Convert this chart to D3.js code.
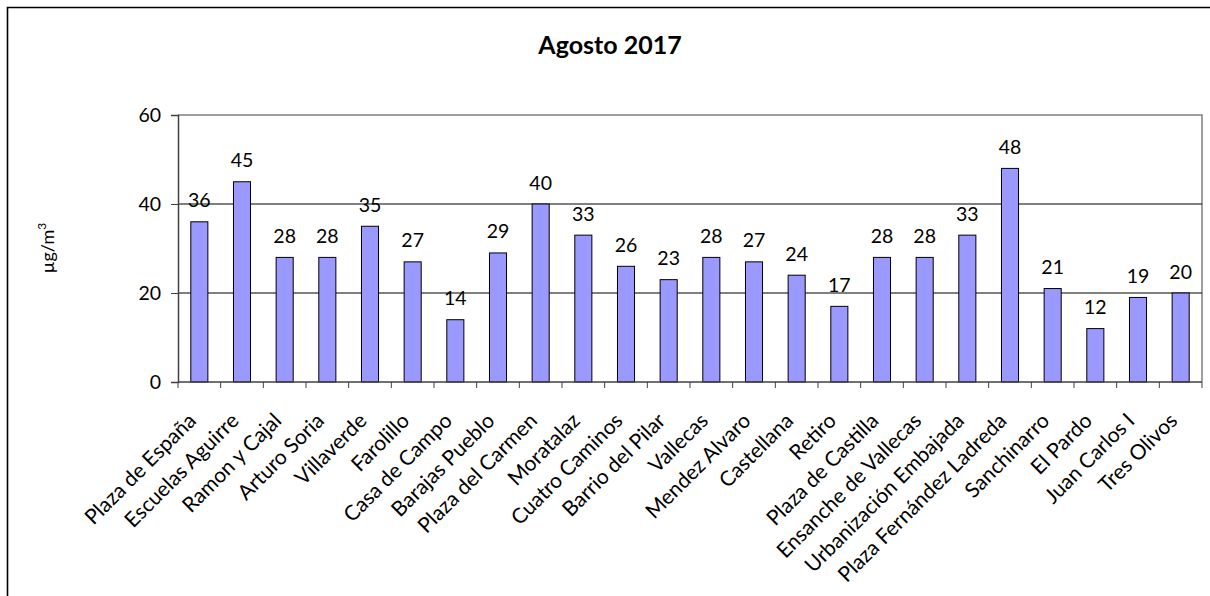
<!DOCTYPE html>
<html><head><meta charset="utf-8">
<script src="https://cdn.jsdelivr.net/npm/d3@7"></script>
<style>body{margin:0;background:#fff}svg{display:block}</style>
</head><body>
<svg id="c" width="1210" height="596"></svg>
<script>
const title = "Agosto 2017";
const yTitle = "µg/m";
const categories = ["Plaza de España","Escuelas Aguirre","Ramon y Cajal","Arturo Soria","Villaverde","Farolillo","Casa de Campo","Barajas Pueblo","Plaza del Carmen","Moratalaz","Cuatro Caminos","Barrio del Pilar","Vallecas","Mendez Alvaro","Castellana","Retiro","Plaza de Castilla","Ensanche de Vallecas","Urbanización Embajada","Plaza Fernández Ladreda","Sanchinarro","El Pardo","Juan Carlos I","Tres Olivos"];
const values = [36,45,28,28,35,27,14,29,40,33,26,23,28,27,24,17,28,28,33,48,21,12,19,20];
const yTicks = [0,20,40,60];

const svg = d3.select("#c");
const font = "Lato, 'Open Sans', sans-serif";
const L=178, R=1202, T=115, B=382;
const x = d3.scaleBand().domain(categories).range([L,R]).paddingInner(0.6).paddingOuter(0.3);
const y = d3.scaleLinear().domain([0,60]).range([B,T]);

// outer border
svg.append("path").attr("d","M7.5,700 L7.5,7.5 L1300,7.5").attr("fill","none").attr("stroke","#000").attr("stroke-width",1.6);

// plot frame
svg.append("path").attr("d",`M${L},${T}H${R}V${B}`).attr("fill","none").attr("stroke","#808080").attr("stroke-width",1.5);

// gridlines
svg.append("g").selectAll("line").data(yTicks.filter(d=>d>0&&d<60)).join("line")
  .attr("x1",L).attr("x2",R).attr("y1",d=>y(d)).attr("y2",d=>y(d)).attr("stroke","#000").attr("stroke-width",1);

// bars
svg.append("g").selectAll("rect").data(values).join("rect")
  .attr("x",(d,i)=>x(categories[i])).attr("width",x.bandwidth())
  .attr("y",d=>y(d)).attr("height",d=>y(0)-y(d))
  .attr("fill","#9999FF").attr("stroke","#000").attr("stroke-width",1);

// data labels
svg.append("g").selectAll("text").data(values).join("text")
  .attr("x",(d,i)=>x(categories[i])+x.bandwidth()/2).attr("y",d=>y(d)-14.5)
  .attr("text-anchor","middle").attr("font-family",font).attr("font-size",19.5).attr("fill","#000")
  .text(d=>d);

// y axis
const yAxis = svg.append("g").attr("transform",`translate(${L},0)`)
  .call(d3.axisLeft(y).tickValues(yTicks).tickSize(7).tickPadding(10).tickFormat(d3.format("d")));
yAxis.select(".domain").attr("stroke","#404040").attr("stroke-width",1.5);
yAxis.selectAll(".tick line").attr("stroke","#404040");
yAxis.selectAll("text").attr("font-family",font).attr("font-size",19.5).attr("fill","#000");

// x axis
const xb = d3.scaleLinear().domain([0,categories.length]).range([L,R]);
svg.append("line").attr("x1",L).attr("x2",R).attr("y1",B).attr("y2",B).attr("stroke","#404040").attr("stroke-width",1.5);
svg.append("g").selectAll("line").data(d3.range(categories.length+1)).join("line")
  .attr("x1",d=>xb(d)).attr("x2",d=>xb(d)).attr("y1",B).attr("y2",B+6).attr("stroke","#404040");

svg.append("g").selectAll("text").data(categories).join("text")
  .attr("transform",d=>`translate(${x(d)+x.bandwidth()/2-2},${B+40}) rotate(-45)`)
  .attr("text-anchor","end").attr("font-family",font).attr("font-size",21).attr("fill","#000")
  .text(d=>d);

// title
svg.append("text").attr("x",610).attr("y",54).attr("text-anchor","middle")
  .attr("font-family",font).attr("font-weight","bold").attr("font-size",25).text(title);

// y title
const yt = svg.append("text").attr("transform","translate(54,248) rotate(-90)")
  .attr("text-anchor","middle").attr("font-family",font).attr("font-size",18);
yt.append("tspan").text(yTitle);
yt.append("tspan").attr("font-size",12).attr("dy","-0.7em").text("3");
</script>
</body></html>
